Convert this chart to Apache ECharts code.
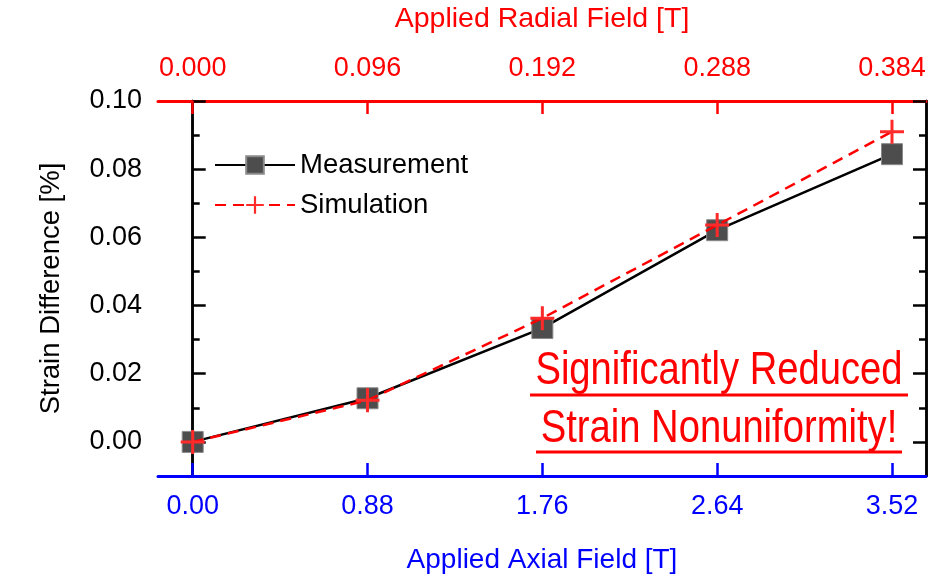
<!DOCTYPE html>
<html>
<head>
<meta charset="utf-8">
<script src="https://cdn.jsdelivr.net/npm/echarts@6/dist/echarts.min.js"></script>
<style>
    html, body {margin: 0; padding: 0; background: #fff;}
    #main {width: 936px; height: 584px;}
</style>
</head>
<body>
<div id="main"></div>
<script>
// 数据：轴向场 / 径向场 / 应变差
var aAxialField = [0.00, 0.88, 1.76, 2.64, 3.52];
var aRadialTicks = [0.000, 0.096, 0.192, 0.288, 0.384];
var aMeasurement = [0.0000, 0.0128, 0.0334, 0.0621, 0.0844];
var aSimulation = [0.0000, 0.0122, 0.0363, 0.0636, 0.0910];
var aYMajor = [0.00, 0.02, 0.04, 0.06, 0.08, 0.10];
var aYMinor = [0.01, 0.03, 0.05, 0.07, 0.09];

var sFont = '"Liberation Sans", Arial, sans-serif';
var sPlus = 'path://M10.5,0H13.5V10.5H24V13.5H13.5V24H10.5V13.5H0V10.5H10.5Z';

function Pairs(aX, aY) {
    var aOut = [];
    for (var i = 0; i < aX.length; i++) {
        aOut.push([aX[i], aY[i]]);
    }
    return aOut
}

function YAxis(sPos, aTicks, iLen, bLabel) {
    return {
        type: 'value',
        position: sPos,
        min: -0.01,
        max: 0.10,
        axisLine: {show: true, lineStyle: {color: '#000', width: 2.5}},
        axisTick: {show: true, inside: true, length: iLen, customValues: aTicks,
            lineStyle: {color: '#000', width: 2.5}},
        axisLabel: {show: bLabel, customValues: aTicks, margin: 16, color: '#000',
            fontFamily: sFont, fontSize: 27,
            formatter: function (v) { return v.toFixed(2); }},
        splitLine: {show: false}
    }
}

function GetOption() {
    var jOption = {
        animation: false,
        backgroundColor: '#fff',
        grid: {left: 158, right: 10, top: 101, bottom: 108},
        legend: {
            orient: 'vertical',
            left: 209,
            top: 146,
            itemWidth: 80,
            itemHeight: 22,
            itemGap: 12,
            textStyle: {fontFamily: sFont, fontSize: 27.5, color: '#000'},
            data: ['Measurement', 'Simulation']
        },
        xAxis: [
            {   // 下轴：轴向场
                type: 'value',
                position: 'bottom',
                min: -0.1747,
                max: 3.6912,
                name: 'Applied Axial Field [T]',
                nameLocation: 'middle',
                nameGap: 70,
                nameTextStyle: {color: '#0000ff', fontFamily: sFont, fontSize: 28},
                axisLine: {show: true, onZero: false, lineStyle: {color: '#0000ff', width: 3}},
                axisTick: {show: true, inside: true, length: 13, customValues: aAxialField,
                    lineStyle: {color: '#0000ff', width: 2.5}},
                axisLabel: {customValues: aAxialField, margin: 17, color: '#0000ff',
                    fontFamily: sFont, fontSize: 27,
                    formatter: function (v) { return v.toFixed(2); }},
                splitLine: {show: false}
            },
            {   // 上轴：径向场
                type: 'value',
                position: 'top',
                min: -0.01906,
                max: 0.40268,
                name: 'Applied Radial Field [T]',
                nameLocation: 'middle',
                nameGap: 67,
                nameTextStyle: {color: '#ff0000', fontFamily: sFont, fontSize: 28.5},
                axisLine: {show: true, onZero: false, lineStyle: {color: '#ff0000', width: 3}},
                axisTick: {show: true, inside: true, length: 13, customValues: aRadialTicks,
                    lineStyle: {color: '#ff0000', width: 2.5}},
                axisLabel: {customValues: aRadialTicks, margin: 19, color: '#ff0000',
                    fontFamily: sFont, fontSize: 27,
                    formatter: function (v) { return v.toFixed(3); }},
                splitLine: {show: false}
            }
        ],
        yAxis: [
            YAxis('left', aYMajor, 13, true),
            YAxis('left', aYMinor, 7, false),
            YAxis('right', aYMajor, 13, false),
            YAxis('right', aYMinor, 7, false)
        ],
        series: [
            {
                name: 'Measurement',
                type: 'line',
                xAxisIndex: 0,
                yAxisIndex: 0,
                symbol: 'rect',
                symbolSize: 21,
                itemStyle: {color: '#4d4d4d', borderColor: '#8a8a8a', borderWidth: 1},
                lineStyle: {color: '#000', width: 2.5},
                z: 2,
                data: Pairs(aAxialField, aMeasurement)
            },
            {
                name: 'Simulation',
                type: 'line',
                xAxisIndex: 0,
                yAxisIndex: 0,
                symbol: sPlus,
                symbolSize: 24,
                itemStyle: {color: '#ff2a2a'},
                lineStyle: {color: '#ff0000', width: 2.5, type: [11, 7]},
                z: 3,
                data: Pairs(aAxialField, aSimulation)
            }
        ],
        graphic: [
            // 注释文字（窄体）
            {type: 'text', x: 719, y: 371, scaleX: 0.83, z: 10,
                style: {text: 'Significantly Reduced', fill: '#ff0000', align: 'center',
                    verticalAlign: 'middle', font: '46px ' + sFont}},
            {type: 'line', z: 10, shape: {x1: 530, y1: 395, x2: 908, y2: 395},
                style: {stroke: '#ff0000', lineWidth: 3}},
            {type: 'text', x: 719, y: 429, scaleX: 0.83, z: 10,
                style: {text: 'Strain Nonuniformity!', fill: '#ff0000', align: 'center',
                    verticalAlign: 'middle', font: '46px ' + sFont}},
            {type: 'line', z: 10, shape: {x1: 536, y1: 452, x2: 902, y2: 452},
                style: {stroke: '#ff0000', lineWidth: 3}}
        ]
    };
    // 左轴标题
    jOption.yAxis[0].name = 'Strain Difference [%]';
    jOption.yAxis[0].nameLocation = 'middle';
    jOption.yAxis[0].nameGap = 93;
    jOption.yAxis[0].nameTextStyle = {color: '#000', fontFamily: sFont, fontSize: 27.5};
    return jOption
}

function drawChart(sTagID) {
    var oChart = echarts.init(document.getElementById(sTagID));
    oChart.setOption(GetOption());
    return oChart
}

drawChart('main');
</script>
</body>
</html>
